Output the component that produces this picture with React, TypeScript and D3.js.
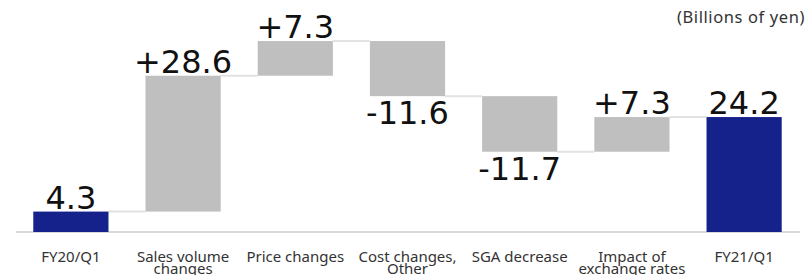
import React from 'react';
import * as d3 from 'd3';

const categories = [
  'FY20/Q1',
  'Sales volume\nchanges',
  'Price changes',
  'Cost changes,\nOther',
  'SGA decrease',
  'Impact of\nexchange rates',
  'FY21/Q1',
];
const values = [4.3, 28.6, 7.3, -11.6, -11.7, 7.3, 24.2];
const isTotal = [true, false, false, false, false, false, true];
const valueLabels = ['4.3', '+28.6', '+7.3', '-11.6', '-11.7', '+7.3', '24.2'];

const W = 808;
const H = 275;
const baseY = 232;

const App = () => {
  const x = d3.scaleBand<string>()
    .domain(categories)
    .range([15, 800])
    .paddingInner(0.33)
    .paddingOuter(0.163);

  const y = d3.scaleLinear().domain([0, 42]).range([baseY, baseY - 42 * 4.75]);

  // running totals for the waterfall
  let run = 0;
  const bars = values.map((v, i) => {
    let start, end;
    if (isTotal[i]) {
      start = 0;
      end = v;
    } else {
      start = run;
      end = run + v;
    }
    run = end;
    return { cat: categories[i], v, start, end, total: isTotal[i], label: valueLabels[i] };
  });

  const bw = x.bandwidth();

  return (
    <svg width={W} height={H} style={{ position: 'absolute', left: 0, top: 0 }}>
      <text x={805} y={23} textAnchor="end" fontFamily="Noto Sans" fontSize={16.5} letterSpacing={0.6} fill="#333">
        (Billions of yen)
      </text>

      <line x1={16} x2={800} y1={baseY} y2={baseY} stroke="#d9d9d9" strokeWidth={2} />

      {bars.slice(0, -1).map((b, i) => (
        <line
          key={'c' + i}
          x1={x(b.cat)! + bw}
          x2={x(categories[i + 1])!}
          y1={y(b.end)}
          y2={y(b.end)}
          stroke="#e2e2e2"
          strokeWidth={2}
        />
      ))}

      {bars.map((b) => {
        const top = y(Math.max(b.start, b.end));
        const bottom = y(Math.min(b.start, b.end));
        return (
          <rect
            key={b.cat}
            x={x(b.cat)}
            y={top}
            width={bw}
            height={bottom - top}
            fill={b.total ? '#15228b' : '#bfbfbf'}
          />
        );
      })}

      {bars.map((b) => {
        const cx = x(b.cat)! + bw / 2;
        const ty = b.v >= 0 ? y(b.end) - 3 : y(b.end) + 28;
        return (
          <text
            key={'l' + b.cat}
            x={cx}
            y={ty}
            textAnchor="middle"
            fontFamily="DejaVu Sans"
            fontSize={32}
            fill="#111"
          >
            {b.label}
          </text>
        );
      })}

      {categories.map((c) => {
        const cx = x(c)! + bw / 2;
        return (
          <text key={'t' + c} x={cx} y={262} textAnchor="middle" fontFamily="Noto Sans" fontSize={15} fill="#333">
            {c.split('\n').map((line, j) => (
              <tspan key={j} x={cx} dy={j === 0 ? 0 : 11.5}>{line}</tspan>
            ))}
          </text>
        );
      })}
    </svg>
  );
};

export default App;
